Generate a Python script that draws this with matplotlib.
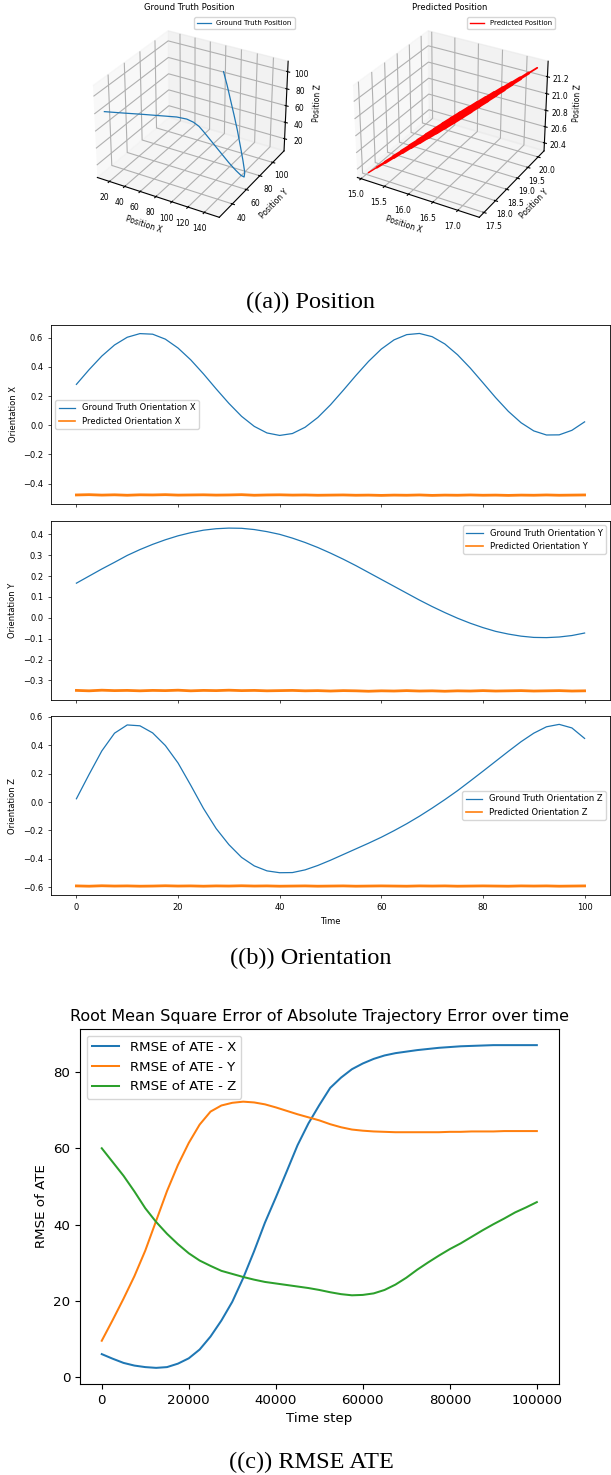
import matplotlib
matplotlib.use("Agg")
import matplotlib.pyplot as plt
from matplotlib.lines import Line2D
from mpl_toolkits.mplot3d.art3d import Line3DCollection

# ---- ground truth / predicted position (3D) ----
gt_pos_x = [15.1, 19.4, 23.4, 27.6, 33.1, 37.7, 43.4, 51.7, 60.5, 79.6, 98.7, 118.3,
            132.5, 142.4, 147.8, 147.7, 143.8, 139.0, 132.6, 126.8, 120.0, 111.5, 101.0]
gt_pos_y = [23.9, 43.1, 62.3, 81.5, 98.8, 108.4, 112.2, 111.3, 108.4, 99.5, 90.5, 81.0,
            74.7, 70.5, 68.7, 69.6, 71.2, 72.8, 75.5, 77.1, 79.6, 84.2, 90.9]
gt_pos_z = [84.2, 69.6, 55.1, 40.4, 27.5, 19.0, 13.7, 11.4, 9.4, 8.7, 8.2, 8.2,
            8.2, 8.7, 9.8, 14.6, 26.4, 40.3, 55.3, 70.3, 84.2, 96.0, 104.5]

# predicted trajectory: centre of the noisy band and its visible spread (pt)
pred_pos_x = [15.05, 15.16, 15.27, 15.38, 15.49, 15.60, 15.71, 15.82, 15.93, 16.04, 16.15,
              16.26, 16.37, 16.48, 16.59, 16.70, 16.81, 16.92, 17.03, 17.14, 17.25]
pred_pos_y = [17.50, 17.635, 17.77, 17.905, 18.04, 18.175, 18.31, 18.445, 18.58, 18.715, 18.85,
              18.985, 19.12, 19.255, 19.39, 19.525, 19.66, 19.795, 19.93, 20.065, 20.20]
pred_pos_z = [20.33, 20.379, 20.427, 20.476, 20.524, 20.573, 20.621, 20.670, 20.718, 20.767,
              20.815, 20.864, 20.912, 20.961, 21.009, 21.058, 21.106, 21.155, 21.203, 21.252, 21.30]
pred_spread = [1.0, 1.7, 2.3, 2.8, 3.3, 3.8, 4.3, 4.8, 5.2, 5.5, 5.6,
               5.5, 5.2, 4.9, 4.5, 4.0, 3.4, 2.8, 2.1, 1.3]

# ---- orientation ----
time = [0, 2.5, 5, 7.5, 10, 12.5, 15, 17.5, 20, 22.5, 25, 27.5, 30, 32.5, 35, 37.5, 40,
        42.5, 45, 47.5, 50, 52.5, 55, 57.5, 60, 62.5, 65, 67.5, 70, 72.5, 75, 77.5, 80,
        82.5, 85, 87.5, 90, 92.5, 95, 97.5, 100]
gt_ori_x = [0.280, 0.381, 0.474, 0.550, 0.603, 0.628, 0.624, 0.590, 0.529, 0.448, 0.352,
            0.249, 0.150, 0.061, -0.008, -0.053, -0.070, -0.057, -0.014, 0.053, 0.140,
            0.239, 0.341, 0.438, 0.522, 0.585, 0.621, 0.629, 0.607, 0.557, 0.483, 0.392,
            0.291, 0.189, 0.095, 0.017, -0.039, -0.067, -0.066, -0.035, 0.023]
gt_ori_y = [0.166, 0.200, 0.234, 0.266, 0.299, 0.327, 0.352, 0.374, 0.393, 0.408, 0.420,
            0.427, 0.430, 0.429, 0.423, 0.413, 0.400, 0.382, 0.361, 0.337, 0.310, 0.281,
            0.250, 0.217, 0.184, 0.151, 0.118, 0.085, 0.054, 0.025, -0.002, -0.026, -0.047,
            -0.065, -0.078, -0.088, -0.094, -0.095, -0.092, -0.085, -0.073]
gt_ori_z = [0.023, 0.195, 0.360, 0.485, 0.543, 0.537, 0.487, 0.398, 0.275, 0.118, -0.045,
            -0.187, -0.300, -0.390, -0.450, -0.485, -0.498, -0.497, -0.478, -0.447, -0.410,
            -0.370, -0.330, -0.290, -0.248, -0.202, -0.153, -0.100, -0.043, 0.017, 0.080,
            0.148, 0.217, 0.287, 0.357, 0.425, 0.485, 0.530, 0.547, 0.522, 0.448]
pred_ori_x = [-0.478, -0.476, -0.479, -0.477, -0.480, -0.477, -0.478, -0.476, -0.479, -0.478,
              -0.477, -0.479, -0.478, -0.476, -0.480, -0.478, -0.477, -0.479, -0.478, -0.480,
              -0.479, -0.478, -0.480, -0.479, -0.481, -0.479, -0.480, -0.478, -0.481, -0.479,
              -0.480, -0.478, -0.480, -0.479, -0.481, -0.479, -0.480, -0.478, -0.480, -0.479, -0.478]
pred_ori_y = [-0.348, -0.350, -0.347, -0.349, -0.348, -0.350, -0.348, -0.349, -0.347, -0.350,
              -0.348, -0.349, -0.347, -0.349, -0.348, -0.350, -0.349, -0.348, -0.350, -0.349,
              -0.351, -0.349, -0.350, -0.352, -0.350, -0.351, -0.349, -0.351, -0.350, -0.352,
              -0.350, -0.351, -0.349, -0.351, -0.350, -0.349, -0.351, -0.350, -0.349, -0.351, -0.350]
pred_ori_z = [-0.591, -0.593, -0.590, -0.592, -0.591, -0.593, -0.592, -0.590, -0.592, -0.591,
              -0.593, -0.591, -0.592, -0.590, -0.592, -0.591, -0.593, -0.592, -0.591, -0.593,
              -0.592, -0.591, -0.593, -0.592, -0.591, -0.592, -0.593, -0.591, -0.592, -0.591,
              -0.593, -0.592, -0.591, -0.592, -0.593, -0.591, -0.592, -0.591, -0.593, -0.592, -0.591]

# ---- RMSE of ATE ----
steps = [0, 2500, 5000, 7500, 10000, 12500, 15000, 17500, 20000, 22500, 25000, 27500,
         30000, 32500, 35000, 37500, 40000, 42500, 45000, 47500, 50000, 52500, 55000,
         57500, 60000, 62500, 65000, 67500, 70000, 72500, 75000, 77500, 80000, 82500,
         85000, 87500, 90000, 92500, 95000, 97500, 100000]
rmse_x = [6.1, 4.9, 3.8, 3.1, 2.7, 2.5, 2.7, 3.6, 5.0, 7.3, 10.7, 14.9, 19.8, 26.0, 33.0,
          40.5, 47.1, 53.9, 60.8, 66.5, 71.3, 75.8, 78.5, 80.7, 82.2, 83.4, 84.3, 84.9,
          85.3, 85.7, 86.0, 86.3, 86.5, 86.7, 86.8, 86.9, 87.0, 87.0, 87.0, 87.0, 87.0]
rmse_y = [9.6, 15.0, 20.6, 26.5, 33.2, 41.0, 48.8, 55.6, 61.4, 66.2, 69.6, 71.2, 71.9,
          72.2, 72.0, 71.5, 70.7, 69.8, 68.9, 68.1, 67.3, 66.3, 65.5, 64.9, 64.6, 64.4,
          64.3, 64.2, 64.2, 64.2, 64.2, 64.2, 64.3, 64.3, 64.4, 64.4, 64.4, 64.5, 64.5,
          64.5, 64.5]
rmse_z = [60.0, 56.4, 52.8, 48.7, 44.3, 40.7, 37.6, 34.9, 32.5, 30.6, 29.2, 27.9, 27.1,
          26.3, 25.6, 25.0, 24.6, 24.2, 23.8, 23.4, 22.9, 22.3, 21.8, 21.5, 21.6, 22.0,
          22.9, 24.3, 26.1, 28.2, 30.1, 31.9, 33.6, 35.1, 36.8, 38.5, 40.1, 41.6, 43.2,
          44.5, 45.9]

W, H = 611, 1475


def rect(left, top, w, h):
    return [left / W, 1 - (top + h) / H, w / W, h / H]


fig = plt.figure(figsize=(W / 100, H / 100), dpi=100)
serif = "Liberation Serif"

# (a) position
ax1 = fig.add_axes(rect(81, 14, 217, 217), projection="3d")
ax1.plot(gt_pos_x, gt_pos_y, gt_pos_z, color="#1f77b4", lw=0.9, label="Ground Truth Position")
ax1.set_xlim(4, 158)
ax1.set_ylim(22, 118)
ax1.set_zlim(5, 112)
ax1.set_xticks([20, 40, 60, 80, 100, 120, 140])
ax1.set_yticks([40, 60, 80, 100])
ax1.set_zticks([20, 40, 60, 80, 100])

ax2 = fig.add_axes(rect(341, 14, 217, 217), projection="3d")
segs = [[(pred_pos_x[i], pred_pos_y[i], pred_pos_z[i]),
         (pred_pos_x[i + 1], pred_pos_y[i + 1], pred_pos_z[i + 1])]
        for i in range(len(pred_pos_x) - 1)]
ax2.add_collection3d(Line3DCollection(segs, colors="red", linewidths=pred_spread,
                                      capstyle="round"))
ax2.set_xlim(14.92, 17.42)
ax2.set_ylim(17.3, 20.3)
ax2.set_zlim(20.3, 21.38)
ax2.set_xticks([15.0, 15.5, 16.0, 16.5, 17.0])
ax2.set_yticks([17.5, 18.0, 18.5, 19.0, 19.5, 20.0])
ax2.set_zticks([20.4, 20.6, 20.8, 21.0, 21.2])
ax2.set_xticklabels(["15.0", "15.5", "16.0", "16.5", "17.0"])
ax2.set_yticklabels(["17.5", "18.0", "18.5", "19.0", "19.5", "20.0"])
ax2.set_zticklabels(["20.4", "20.6", "20.8", "21.0", "21.2"])

for ax, title in [(ax1, "Ground Truth Position"), (ax2, "Predicted Position")]:
    ax.set_title(title, fontsize=6, pad=3)
    ax.set_xlabel("Position X", fontsize=5.5, labelpad=-7)
    ax.set_ylabel("Position Y", fontsize=5.5, labelpad=-7)
    ax.set_zlabel("Position Z", fontsize=5.5, labelpad=-7)
    ax.tick_params(labelsize=5.5, pad=-2)

ax1.legend(loc="upper right", fontsize=5)
ax2.legend(handles=[Line2D([], [], color="red", lw=1.0)], labels=["Predicted Position"],
           loc="upper right", fontsize=5)

fig.text(311 / W, 1 - 302 / H, "((a)) Position", ha="center", va="center",
         fontfamily=serif, fontsize=17.5)

# (b) orientation
ori = [(gt_ori_x, pred_ori_x, "X", 325, "center left"),
       (gt_ori_y, pred_ori_y, "Y", 521, "upper right"),
       (gt_ori_z, pred_ori_z, "Z", 716, "center right")]
ylims = {"X": (-0.54, 0.687), "Y": (-0.394, 0.464), "Z": (-0.655, 0.606)}
for gt, pred, name, top, loc in ori:
    ax = fig.add_axes(rect(51, top, 559, 179))
    ax.plot(time, gt, color="#1f77b4", lw=0.9, label=f"Ground Truth Orientation {name}")
    ax.plot(time, pred, color="#ff7f0e", lw=2.0, label=f"Predicted Orientation {name}")
    ax.set_xlim(-5, 105)
    ax.set_ylim(*ylims[name])
    ax.set_ylabel(f"Orientation {name}", fontsize=6)
    ax.tick_params(labelsize=6, length=2.1, width=0.5)
    for s in ax.spines.values():
        s.set_linewidth(0.6)
    leg = ax.legend(loc=loc, fontsize=6)
    leg.legend_handles[1].set_linewidth(1.2)
    if name != "Z":
        ax.tick_params(labelbottom=False)
    else:
        ax.set_xlabel("Time", fontsize=6)

fig.text(311 / W, 1 - 958 / H, "((b)) Orientation", ha="center", va="center",
         fontfamily=serif, fontsize=17.5)

# (c) RMSE ATE
ax = fig.add_axes(rect(80, 1029, 478.6, 355))
ax.plot(steps, rmse_x, lw=1.45, label="RMSE of ATE - X")
ax.plot(steps, rmse_y, lw=1.45, label="RMSE of ATE - Y")
ax.plot(steps, rmse_z, lw=1.45, label="RMSE of ATE - Z")
ax.set_title("Root Mean Square Error of Absolute Trajectory Error over time", fontsize=11.5)
ax.set_xlabel("Time step", fontsize=9.65)
ax.set_ylabel("RMSE of ATE", fontsize=9.65)
ax.tick_params(labelsize=9.65)
ax.legend(loc="upper left", fontsize=9.65)

fig.text(311 / W, 1 - 1462 / H, "((c)) RMSE ATE", ha="center", va="center",
         fontfamily=serif, fontsize=17.5)

fig.savefig("out.png", dpi=100)
